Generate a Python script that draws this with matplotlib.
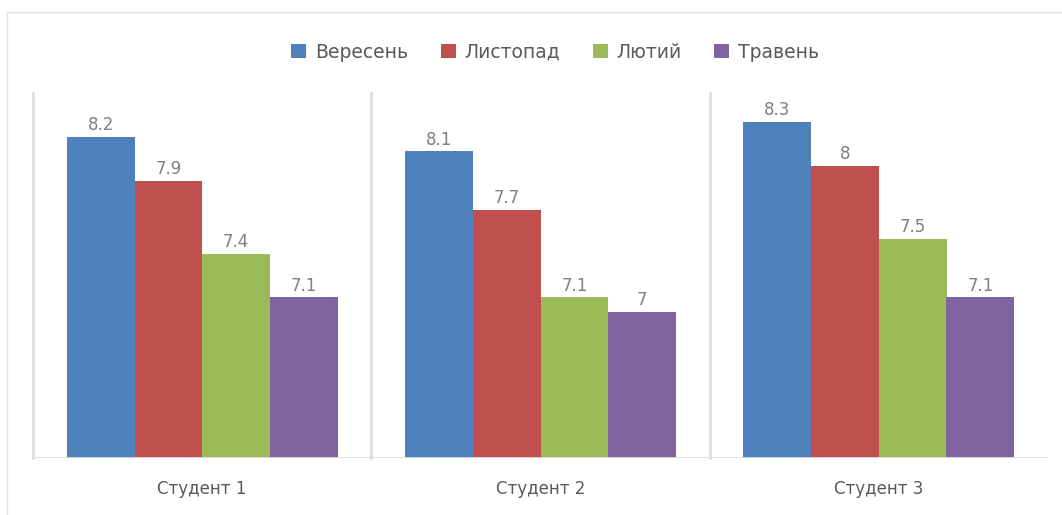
import numpy as np
import matplotlib.pyplot as plt
from matplotlib.patches import Patch
from matplotlib.lines import Line2D

plt.rcParams['font.family'] = ['DejaVu Sans']

students = ['Студент 1', 'Студент 2', 'Студент 3']
months = ['Вересень', 'Листопад', 'Лютий', 'Травень']
scores = {
    'Вересень': [8.2, 8.1, 8.3],
    'Листопад': [7.9, 7.7, 8.0],
    'Лютий': [7.4, 7.1, 7.5],
    'Травень': [7.1, 7.0, 7.1],
}
colors = ['#4F81BD', '#C0504D', '#9BBB59', '#8064A2']
text_color = '#595959'
value_color = '#7F7F7F'
grid_color = '#DDDDDD'

fig = plt.figure(figsize=(10.62, 5.15), dpi=100)
ax = fig.add_axes([33 / 1062, 57 / 515, 1015 / 1062, 365 / 515])

x = np.arange(len(students))
width = 0.2
for i, (month, color) in enumerate(zip(months, colors)):
    vals = scores[month]
    bars = ax.bar(x + (i - 1.5) * width, vals, width, bottom=0, color=color,
                  edgecolor='none', zorder=2)
    for b, v in zip(bars, vals):
        ax.annotate(f'{v:g}', (b.get_x() + b.get_width() / 2, v),
                    xytext=(0, 2), textcoords='offset points',
                    ha='center', va='bottom', fontsize=12, color=value_color)

ax.set_xlim(-0.5, 2.5)
ax.set_ylim(6, 8.5)

# separators on the left of each category, plus the baseline
for xs in x - 0.5:
    ax.axvline(xs, color=grid_color, lw=2, zorder=1, clip_on=False)
ax.axhline(6, color=grid_color, lw=2, zorder=3)

for s in ax.spines.values():
    s.set_visible(False)
ax.set_yticks([])
ax.set_xticks(x)
ax.set_xticklabels(students, fontsize=12, color=text_color)
ax.tick_params(axis='x', length=0, pad=16)

handles = [Patch(facecolor=c, edgecolor='none') for c in colors]
fig.legend(handles, months, loc='center', bbox_to_anchor=(555 / 1062, 1 - 52 / 515),
           ncol=4, frameon=False, fontsize=13.5, labelcolor=text_color,
           handlelength=0.8, handleheight=0.8, handletextpad=0.45,
           columnspacing=1.75)

# thin frame around the chart area
fig.add_artist(Line2D([7 / 1062, 1], [1 - 12 / 515, 1 - 12 / 515],
                      transform=fig.transFigure, color='#E3E3E3', lw=1))
fig.add_artist(Line2D([7 / 1062, 7 / 1062], [0, 1 - 12 / 515],
                      transform=fig.transFigure, color='#E3E3E3', lw=1))

fig.savefig('out.png', dpi=100)
